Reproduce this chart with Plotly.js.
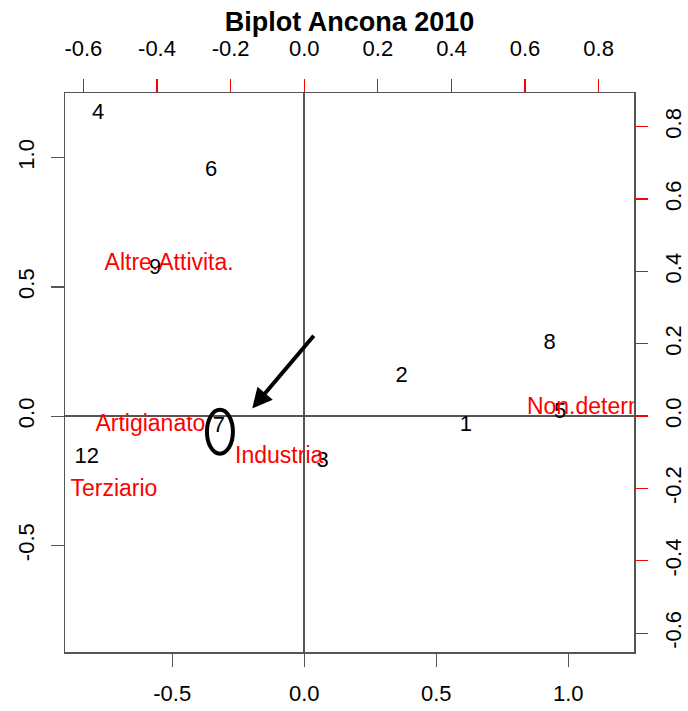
<!DOCTYPE html>
<html>
<head>
<meta charset="utf-8">
<script src="https://cdn.plot.ly/plotly-3.0.1.min.js"></script>
<style>html,body{margin:0;padding:0;background:#fff;}#chart{width:688px;height:711px;}</style>
</head>
<body>
<div id="chart"></div>
<script>
// Observations (row scores) - bottom/left axes
const obsLabels = ["1", "2", "3", "4", "5", "6", "7", "8", "9", "12"];
const obsX = [0.612, 0.369, 0.070, -0.781, 0.969, -0.353, -0.323, 0.929, -0.565, -0.824];
const obsY = [-0.035, 0.155, -0.177, 1.171, 0.013, 0.951, -0.041, 0.281, 0.571, -0.160];

// Variables (column loadings) - top/right axes
const varLabels = ["Altre.Attivita.", "Artigianato", "Industria", "Terziario", "Non.determinato"];
const varX = [-0.367, -0.418, -0.068, -0.517, 0.836];
const varY = [0.419, -0.025, -0.114, -0.206, 0.021];

// Axis ticks
const primaryTicks = [-0.5, 0.0, 0.5, 1.0];
const primaryTickText = ["-0.5", "0.0", "0.5", "1.0"];
const secondaryTicks = [-0.6, -0.4, -0.2, 0.0, 0.2, 0.4, 0.6, 0.8];
const secondaryTickText = ["-0.6", "-0.4", "-0.2", "0.0", "0.2", "0.4", "0.6", "0.8"];

// Highlight arrow (data coordinates) pointing at observation 7
const arrowTip = [-0.197, 0.030];
const arrowTail = [0.041, 0.317];
const highlightIndex = 6;

const FONT = '"Liberation Sans", Arial, Helvetica, sans-serif';
const AX = '#555555';

const traces = [
  {
    type: 'scatter', mode: 'text',
    x: obsX, y: obsY, text: obsLabels,
    textfont: {family: FONT, size: 22, color: '#000000'},
    textposition: 'middle center',
    cliponaxis: true, hoverinfo: 'none', showlegend: false
  },
  {
    type: 'scatter', mode: 'text',
    x: varX, y: varY, text: varLabels,
    xaxis: 'x2', yaxis: 'y2',
    textfont: {family: FONT, size: 23, color: '#ff0000'},
    textposition: 'middle center',
    cliponaxis: true, hoverinfo: 'none', showlegend: false
  }
];

const common = {
  ticks: 'outside', ticklen: 13, tickwidth: 1.3,
  showgrid: false, tickfont: {family: FONT, size: 22, color: '#000000'},
  fixedrange: true, tickmode: 'array'
};

const layout = {
  width: 688, height: 711,
  margin: {l: 65, r: 54, t: 93, b: 59, pad: 0},
  paper_bgcolor: '#ffffff', plot_bgcolor: '#ffffff',
  font: {family: FONT, color: '#000000'},
  title: {
    text: 'Biplot Ancona 2010',
    font: {family: FONT, size: 27, weight: 700, color: '#000000'},
    x: 0.5, xref: 'paper', xanchor: 'center',
    y: 1 - 22 / 711, yref: 'container', yanchor: 'middle'
  },
  xaxis: Object.assign({}, common, {
    range: [-0.906, 1.249], tickvals: primaryTicks, ticktext: primaryTickText,
    tickcolor: AX, showline: true, linecolor: AX, linewidth: 1.5, mirror: true,
    zeroline: true, zerolinecolor: AX, zerolinewidth: 1.5,
    ticklabelstandoff: 8
  }),
  yaxis: Object.assign({}, common, {
    range: [-0.912, 1.250], tickvals: primaryTicks, ticktext: primaryTickText,
    tickcolor: AX, showline: true, linecolor: AX, linewidth: 1.5, mirror: true,
    zeroline: true, zerolinecolor: AX, zerolinewidth: 1.5,
    tickangle: -90, ticklabelstandoff: 8
  }),
  xaxis2: Object.assign({}, common, {
    overlaying: 'x', side: 'top', anchor: 'y',
    range: [-0.650, 0.896], tickvals: secondaryTicks, ticktext: secondaryTickText,
    tickcolor: '#ff0000', showline: false, zeroline: false,
    ticklabelstandoff: 14
  }),
  yaxis2: Object.assign({}, common, {
    overlaying: 'y', side: 'right', anchor: 'x',
    range: [-0.652, 0.893], tickvals: secondaryTicks, ticktext: secondaryTickText,
    tickcolor: '#ff0000', showline: false, zeroline: false,
    tickangle: -90, ticklabelstandoff: 7
  }),
  shapes: [
    {
      type: 'circle', xref: 'x', yref: 'y',
      xsizemode: 'pixel', ysizemode: 'pixel',
      xanchor: obsX[highlightIndex], yanchor: obsY[highlightIndex],
      x0: -12, x1: 14, y0: -27, y1: 17,
      line: {color: '#000000', width: 4}
    }
  ],
  annotations: [
    {
      x: arrowTip[0], y: arrowTip[1], xref: 'x', yref: 'y',
      ax: arrowTail[0], ay: arrowTail[1], axref: 'x', ayref: 'y',
      showarrow: true, arrowhead: 2, arrowsize: 1, arrowwidth: 4,
      arrowcolor: '#000000', text: ''
    }
  ]
};

Plotly.newPlot('chart', traces, layout, {displayModeBar: false, staticPlot: true});
</script>
</body>
</html>
